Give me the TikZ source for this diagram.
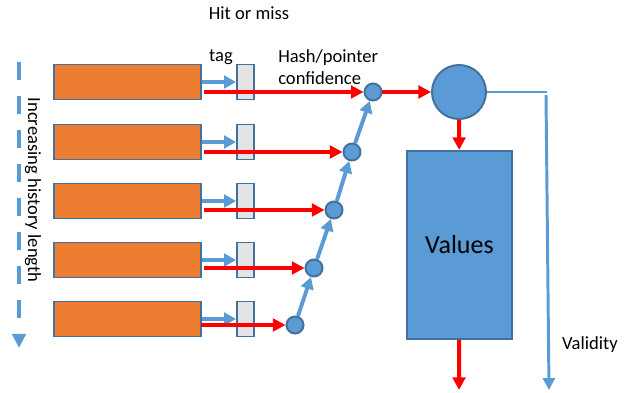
\documentclass[tikz,border=0pt]{standalone}
\usepackage{fontspec}
\setmainfont{Carlito}
\usetikzlibrary{arrows.meta, positioning}

\definecolor{taborange}{HTML}{ED7D31}
\definecolor{fillblue}{HTML}{5B9BD5}
\definecolor{edgeblue}{HTML}{41719C}
\definecolor{taggray}{HTML}{E4E4E4}

\tikzset{
	histtable/.style={draw=edgeblue, line width=1.4pt, fill=taborange,
		minimum width=3.675cm, minimum height=0.875cm, inner sep=0pt},
	tagbox/.style={draw=edgeblue, line width=1.4pt, fill=taggray,
		minimum width=0.425cm, minimum height=0.875cm, inner sep=0pt},
	confdot/.style={circle, draw=edgeblue, line width=1.4pt, fill=fillblue,
		minimum size=0.425cm, inner sep=0pt},
	redarrow/.style={red, line width=2.8pt, -{Triangle[length=9pt, width=9pt]}},
	bluearrow/.style={fillblue, line width=2.8pt, -{Triangle[length=8.5pt, width=9pt]}},
	label/.style={font=\fontsize{13.2}{15.6}\selectfont, inner sep=0pt},
}

\begin{document}
\begin{tikzpicture}[x=0.025cm, y=-0.025cm]
	\useasboundingbox (0,0) rectangle (624,393);
	
	% tables, tags and confidence dots
	\foreach \i/\y/\cx/\cy/\rx in {1/82/373/92/204, 2/142/352/152/204,
		3/201/334/210/204, 4/260/314/268/204, 5/319/295/325/201} {
		\node[histtable] (tab\i) at (127.5,\y) {};
		\node[tagbox] (tag\i) at (245.5,\y) {};
		\node[confdot] (cf\i) at (\cx,\cy) {};
		\coordinate (rs\i) at (\rx,\cy);
		\draw[bluearrow] (tab\i) -- (tag\i);
		\draw[redarrow] (rs\i) -- (cf\i);
	}
	
	\foreach \a/\b in {5/4, 4/3, 3/2, 2/1}
		\draw[bluearrow] (cf\a) -- (cf\b);
	
	% selection and values
	\node[circle, draw=edgeblue, line width=1.4pt, fill=fillblue, minimum size=1.35cm,
		inner sep=0pt] (mux) at (459,92) {};
	\node[draw=edgeblue, line width=1.4pt, fill=fillblue, minimum width=2.625cm,
		minimum height=4.7cm, inner sep=0pt, font=\fontsize{18.5}{22}\selectfont]
		(values) at (459.5,245) {Values};
	\coordinate (out) at (459,390);
	\coordinate (vcorner) at (547,92);
	\coordinate (vtop) at (546,95);
	\coordinate (vend) at (549,390);
	
	\draw[redarrow] (cf1) -- (mux);
	\draw[redarrow] (mux) -- (values);
	\draw[redarrow] (values) -- (out);
	\draw[fillblue, line width=1.4pt] (mux) -- (vcorner);
	\draw[fillblue, line width=2.1pt, -{Triangle[length=8.5pt, width=8.5pt]}] (vtop) -- (vend);
	
	% history length
	\coordinate (htop) at (19,62);
	\coordinate (hend) at (19,348);
	\draw[fillblue, line width=2.8pt, dash pattern=on 12.8pt off 11.4pt,
		-{Triangle[length=10pt, width=9.5pt]}] (htop) -- (hend);
	
	% labels
	\node[label] (hit) at (249,13) {Hit or miss};
	\node[label] (tagtext) at (221,57) {tag};
	\node[label, align=left, anchor=west] (hash) at (278,67) {Hash/pointer\\confidence};
	\node[label] (valid) at (590,345) {Validity};
	\node[label, rotate=-90] (hist) at (33,190) {Increasing history length};
\end{tikzpicture}
\end{document}
